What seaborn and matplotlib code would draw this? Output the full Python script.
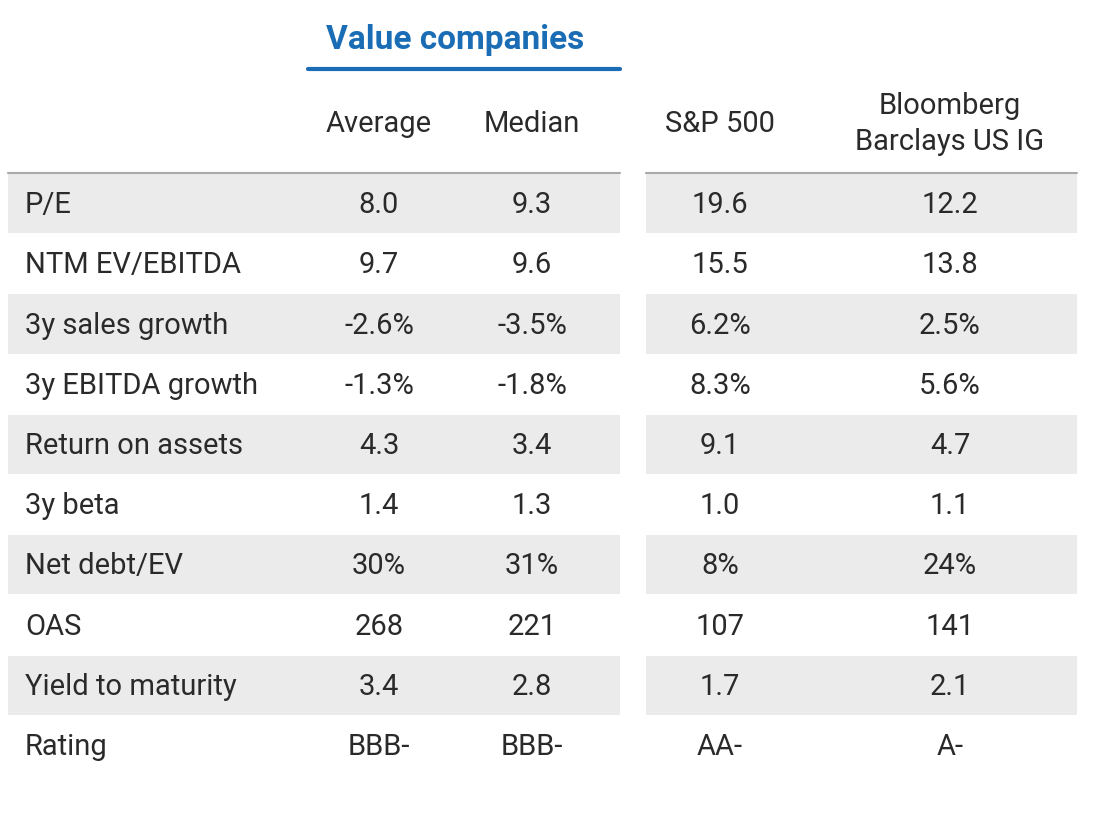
import matplotlib
matplotlib.use("Agg")
import matplotlib.pyplot as plt
import seaborn as sns

# Datos de la tabla
metrics = ["P/E", "NTM EV/EBITDA", "3y sales growth", "3y EBITDA growth", "Return on assets",
           "3y beta", "Net debt/EV", "OAS", "Yield to maturity", "Rating"]
average = ["8.0", "9.7", "-2.6%", "-1.3%", "4.3", "1.4", "30%", "268", "3.4", "BBB-"]
median = ["9.3", "9.6", "-3.5%", "-1.8%", "3.4", "1.3", "31%", "221", "2.8", "BBB-"]
sp500 = ["19.6", "15.5", "6.2%", "8.3%", "9.1", "1.0", "8%", "107", "1.7", "AA-"]
bbg_ig = ["12.2", "13.8", "2.5%", "5.6%", "4.7", "1.1", "24%", "141", "2.1", "A-"]
col_headers = ["Average", "Median", "S&P 500", "Bloomberg\nBarclays US IG"]
group_title = "Value companies"

sns.set_theme(style="white", font="Roboto")
FS = 21
BLUE = "#1a6db5"
BAND = "#ebebeb"
TXT = "#2a2a2a"

fig = plt.figure(figsize=(11, 8.15), dpi=100)
ax = fig.add_axes([0, 0, 1, 1])
ax.set_xlim(0, 1100)
ax.set_ylim(815, 0)
ax.axis("off")

ROW0, ROWH = 174, 60.2
col_x = [379, 532, 720, 950]
blocks = [(8, 620), (646, 1077)]

for i, m in enumerate(metrics):
    top = ROW0 + i * ROWH
    yc = top + ROWH / 2 + 1
    if i % 2 == 0 and i < len(metrics) - 1:
        for x0, x1 in blocks:
            ax.fill_between([x0, x1], top, top + ROWH - 1, color=BAND, lw=0)
    ax.text(25, yc, m, fontsize=FS, va="center", ha="left", color=TXT)
    for x, vals in zip(col_x, [average, median, sp500, bbg_ig]):
        ax.text(x, yc, vals[i], fontsize=FS, va="center", ha="center", color=TXT)

for x0, x1 in blocks:
    ax.plot([x0, x1], [173, 173], color="#aaaaaa", lw=1.5)

for x, h in zip(col_x, col_headers):
    ax.text(x, 124, h, fontsize=FS, va="center", ha="center", color=TXT, linespacing=1.35)

ax.text(455, 40, group_title, fontsize=24, fontweight="bold", color=BLUE, ha="center", va="center")
ax.plot([308, 620], [69, 69], color=BLUE, lw=3)

fig.savefig("out.png", dpi=100)
